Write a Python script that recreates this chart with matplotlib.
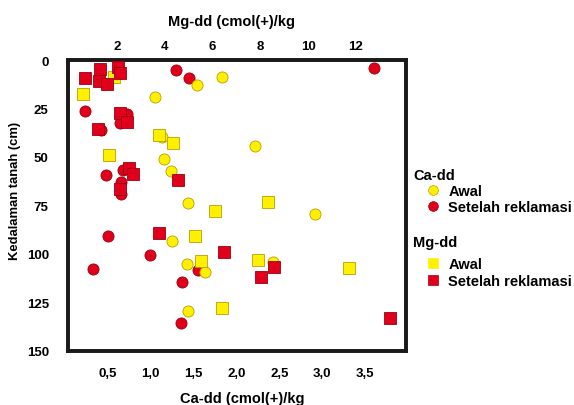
import matplotlib
matplotlib.use("Agg")
import matplotlib.pyplot as plt
from matplotlib.lines import Line2D

plt.rcParams['font.family'] = ['Liberation Sans', 'DejaVu Sans']
plt.rcParams['font.weight'] = 'bold'

# Ca-dd (cmol(+)/kg) vs depth (cm)
ca_awal_x = [1.83, 1.54, 1.05, 1.13, 2.22, 1.15, 1.24, 1.44, 2.91, 1.25, 1.42, 2.42, 1.63, 1.44]
ca_awal_y = [8.9, 12.7, 18.9, 39.6, 44.2, 51.1, 57.1, 73.8, 79.5, 93.3, 105.3, 104.4, 109.3, 129.7]

ca_rek_x = [1.29, 1.45, 3.60, 0.23, 0.72, 0.64, 0.42, 0.68, 0.48, 0.65, 0.65, 0.50, 0.99, 0.33, 1.55, 1.36, 1.35]
ca_rek_y = [5.2, 9.3, 4.1, 26.5, 27.9, 32.7, 36.1, 56.6, 59.4, 62.8, 69.2, 90.7, 100.7, 107.9, 108.4, 114.5, 135.9]

# Mg-dd (cmol(+)/kg) vs depth (cm)
mg_awal_x = [1.86, 0.58, 3.74, 4.34, 1.65, 8.32, 6.11, 5.28, 5.52, 7.92, 11.72, 6.39]
mg_awal_y = [8.6, 17.6, 38.6, 43.0, 49.0, 73.1, 78.1, 91.0, 103.6, 103.3, 107.5, 128.0]

mg_rek_x = [0.67, 1.27, 1.23, 1.58, 2.03, 2.14, 2.11, 2.42, 1.20, 2.49, 2.67, 4.54, 2.11, 3.77, 6.50, 8.58, 8.04, 13.43]
mg_rek_y = [9.3, 4.6, 10.7, 12.4, 3.8, 6.9, 27.5, 31.9, 35.6, 55.8, 58.9, 61.8, 66.6, 89.3, 99.3, 107.0, 112.2, 133.4]

ca_ticks = [0.5, 1.0, 1.5, 2.0, 2.5, 3.0, 3.5]
ca_ticklabels = ['0,5', '1,0', '1,5', '2,0', '2,5', '3,0', '3,5']
mg_ticks = [2, 4, 6, 8, 10, 12]
depth_ticks = [0, 25, 50, 75, 100, 125, 150]
legend_labels = ['Awal', 'Setelah reklamasi']

YEL = '#fff000'
YEL_E = '#b8a000'
RED = '#e0001b'
RED_E = '#9a0010'

W, H = 574, 406
fig = plt.figure(figsize=(W / 100, H / 100), dpi=100)
l, r, t, b = 67.5, 405.5, 61, 351.5
ax = fig.add_axes([l / W, 1 - b / H, (r - l) / W, (b - t) / H])

def fx(px):
    return px / W

def fy(py):
    return 1 - py / H

fs = 9.5
fl = 10.5
ms = 8.0

ax.plot(ca_rek_x, ca_rek_y, 'o', ms=ms, mfc=RED, mec=RED_E, mew=0.6, ls='none', zorder=3)
ax.plot(ca_awal_x, ca_awal_y, 'o', ms=ms, mfc=YEL, mec=YEL_E, mew=0.6, ls='none', zorder=4)
ax.set_xlim(0.03, 3.97)
ax.set_ylim(150, 0)
ax.set_xticks(ca_ticks)
ax.set_xticklabels(ca_ticklabels)
ax.set_yticks(depth_ticks)
ax.tick_params(axis='both', length=0, labelsize=fs)
ax.tick_params(axis='x', pad=12)
ax.tick_params(axis='y', pad=13.5)

ax2 = ax.twiny()
ax2.plot(mg_awal_x, mg_awal_y, 's', ms=ms, mfc=YEL, mec=YEL_E, mew=0.6, ls='none', zorder=3)
ax2.plot(mg_rek_x, mg_rek_y, 's', ms=ms, mfc=RED, mec=RED_E, mew=0.6, ls='none', zorder=4)
ax2.set_xlim(-0.07, 14.08)
ax2.set_xticks(mg_ticks)
ax2.tick_params(axis='x', length=0, labelsize=fs, pad=6)
ax2.set_ylim(150, 0)

for a in (ax, ax2):
    for s in a.spines.values():
        s.set_linewidth(2.6)
        s.set_color('#1a1a1a')

# axis titles
fig.text(fx(231.5), fy(22), 'Mg-dd (cmol(+)/kg', ha='center', va='center', fontsize=fl, fontweight='bold')
fig.text(fx(242), fy(399), 'Ca-dd (cmol(+)/kg', ha='center', va='center', fontsize=fl, fontweight='bold')
fig.text(fx(15), fy(191), 'Kedalaman tanah (cm)', ha='center', va='center', rotation=90,
         fontsize=9.4, fontweight='bold')

# legend (drawn manually)
fig.text(fx(413), fy(176), 'Ca-dd', ha='left', va='center', fontsize=fl, fontweight='bold')
fig.text(fx(413), fy(243), 'Mg-dd', ha='left', va='center', fontsize=fl, fontweight='bold')
entries = [
    ('o', YEL, YEL_E, 191, legend_labels[0], 449),
    ('o', RED, RED_E, 207, legend_labels[1], 448),
    ('s', YEL, YEL, 264, legend_labels[0], 449),
    ('s', RED, RED_E, 281, legend_labels[1], 448),
]
for mk, fc, ec, py, lab, tx in entries:
    fig.add_artist(Line2D([fx(433)], [fy(py)], marker=mk, ls='none', ms=7, mfc=fc, mec=ec,
                          mew=0.5, transform=fig.transFigure))
    fig.text(fx(tx), fy(py + 1), lab, ha='left', va='center', fontsize=fl, fontweight='bold')

fig.savefig('out.png', dpi=100)
